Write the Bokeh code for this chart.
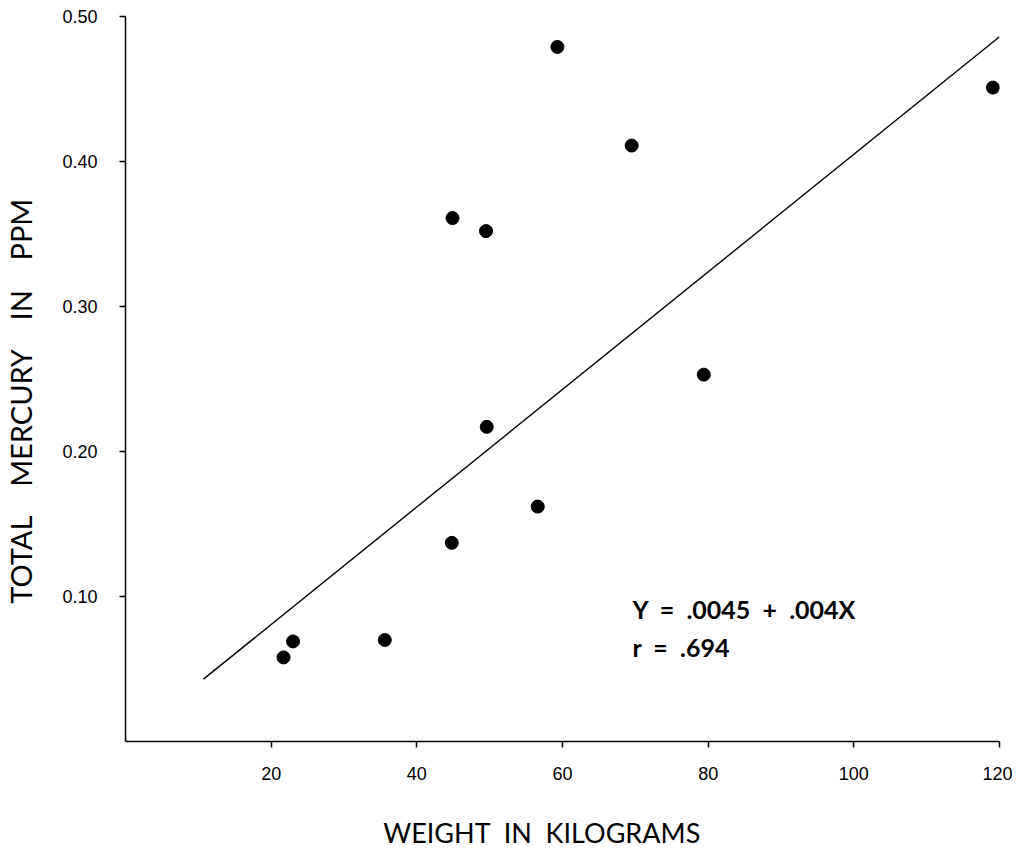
from bokeh.plotting import figure
from bokeh.models import Range1d, FixedTicker, Label, ColumnDataSource
from bokeh.embed import file_html
from bokeh.resources import INLINE

# ---- data ----
weight_kg = [21.7, 23.0, 35.6, 44.8, 44.9, 49.5, 49.6, 56.6, 59.3, 69.5, 79.4, 119.1]
mercury_ppm = [0.058, 0.069, 0.070, 0.137, 0.361, 0.352, 0.217, 0.162, 0.479, 0.411, 0.253, 0.451]

fit_x = [10.7, 120.0]
fit_y = [0.043, 0.486]

x_ticks = [20, 40, 60, 80, 100, 120]
y_ticks = [0.10, 0.20, 0.30, 0.40, 0.50]
y_tick_labels = ["0.10", "0.20", "0.30", "0.40", "0.50"]

NB = "\u00a0"
# trailing no-break spaces shift the visible title off the frame centre, as in the reference
x_title = f"WEIGHT{NB} IN{NB} KILOGRAMS" + NB * 6
y_title = f"TOTAL{NB}{NB}{NB} MERCURY{NB}{NB}{NB} IN{NB}{NB}{NB} PPM" + NB * 6
eq_line1 = f"Y{NB} ={NB} .0045{NB} +{NB} .004X"
eq_line2 = f"r{NB} ={NB} .694"

# ---- figure ----
p = figure(width=1012, height=846, output_backend="svg", toolbar_location=None,
           x_range=Range1d(0, 120), y_range=Range1d(0, 0.5),
           min_border_left=125, min_border_right=13, min_border_top=16, min_border_bottom=10)
p.frame_width = 874
p.frame_height = 725
p.outline_line_color = None
p.xgrid.visible = False
p.ygrid.visible = False
p.background_fill_color = "white"
p.border_fill_color = "white"

tick_font = "Liberation Sans"
title_font = "Lato"
for ax in (p.xaxis, p.yaxis):
    ax.axis_line_color = "black"
    ax.axis_line_width = 1.5
    ax.major_tick_line_color = "black"
    ax.major_tick_line_width = 1.5
    ax.major_tick_in = 0
    ax.major_tick_out = 6
    ax.minor_tick_line_color = None
    ax.major_label_text_font = tick_font
    ax.major_label_text_font_size = "18px"
    ax.major_label_text_color = "black"
    ax.axis_label_text_font = title_font
    ax.axis_label_text_font_style = "normal"
    ax.axis_label_text_color = "black"

p.xaxis.ticker = FixedTicker(ticks=x_ticks)
p.yaxis.ticker = FixedTicker(ticks=y_ticks)
p.yaxis.major_label_overrides = {t: s for t, s in zip(y_ticks, y_tick_labels)}
p.xaxis.major_label_standoff = 19
p.yaxis.major_label_standoff = 22

p.xaxis.axis_label = x_title
p.xaxis.axis_label_text_font_size = "27px"
p.xaxis.axis_label_standoff = 33
p.yaxis.axis_label = y_title
p.yaxis.axis_label_text_font_size = "29px"
p.yaxis.axis_label_standoff = 21

src = ColumnDataSource(dict(x=weight_kg, y=mercury_ppm))
p.line(fit_x, fit_y, line_color="black", line_width=1.4)
p.scatter("x", "y", source=src, size=13, fill_color="black", line_color="black")

p.add_layout(Label(x=69.6, y=0.0917, text=eq_line1, text_font=title_font,
                   text_font_size="25px", text_font_style="bold", text_align="left",
                   text_baseline="alphabetic", text_color="black"))
p.add_layout(Label(x=69.6, y=0.0655, text=eq_line2, text_font=title_font,
                   text_font_size="25px", text_font_style="bold", text_align="left",
                   text_baseline="alphabetic", text_color="black"))

open("out.html", "w").write(file_html(p, INLINE))
